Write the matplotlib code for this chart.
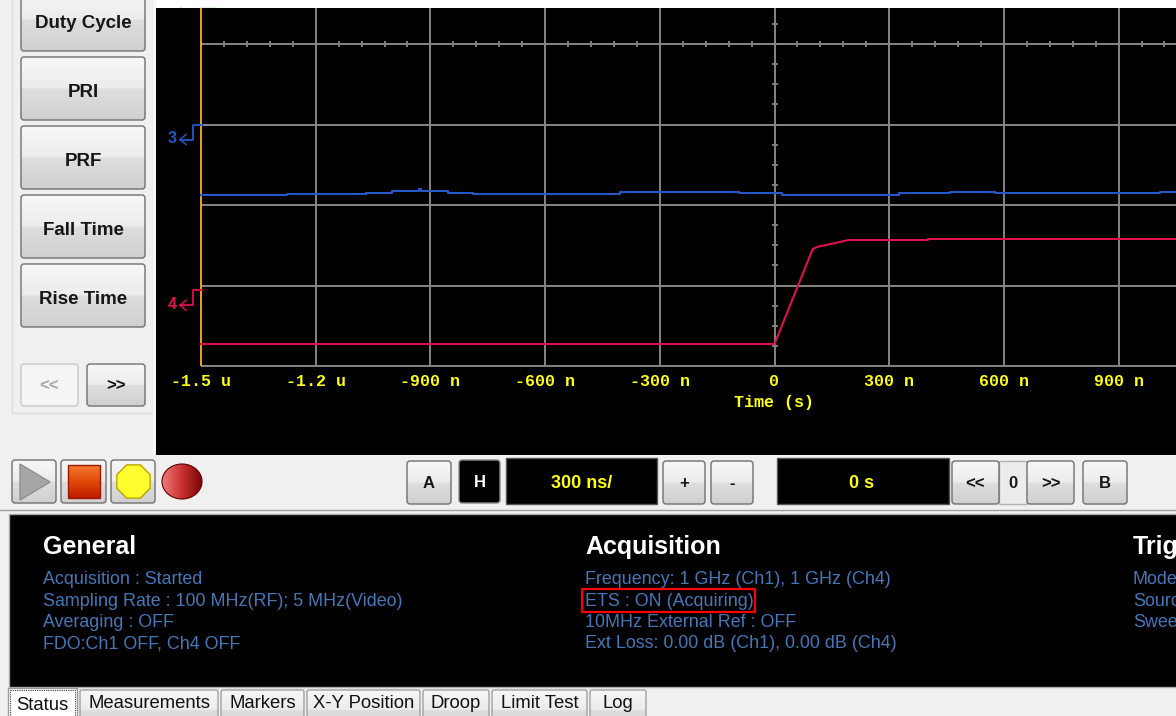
import numpy as np
import matplotlib
matplotlib.use('Agg')
import matplotlib.pyplot as plt
from matplotlib.patches import Rectangle, FancyBboxPatch, Polygon, Ellipse, RegularPolygon
from matplotlib.colors import LinearSegmentedColormap

# ---- data ----
time_ticks_ns = [-1500, -1200, -900, -600, -300, 0, 300, 600, 900]
time_tick_labels = ['-1.5 u', '-1.2 u', '-900 n', '-600 n', '-300 n', '0', '300 n', '600 n', '900 n']

# channel 3 (blue), step levels in screen divisions
ch3_t_ns = [-1500, -1275, -1069, -1000, -930, -924, -854, -789, -404, -93, 20, 326, 459, 577, 1008]
ch3_div = [2.124, 2.137, 2.155, 2.180, 2.199, 2.180, 2.155, 2.141, 2.161, 2.145, 2.124, 2.145, 2.161, 2.145, 2.161]

# channel 4 (red), pulse rising edge
ch4_t_ns = [-1500, 0, 100, 112, 194, 401, 401, 1050]
ch4_div = [0.273, 0.273, 1.453, 1.480, 1.565, 1.565, 1.578, 1.578]

ch3_ref_div = 3.0
ch4_ref_div = 0.94

side_buttons = ['Duty Cycle', 'PRI', 'PRF', 'Fall Time', 'Rise Time']
timebase_label = '300 ns/'
delay_label = '0 s'

general_title = 'General'
general_lines = ['Acquisition : Started',
                 'Sampling Rate : 100 MHz(RF); 5 MHz(Video)',
                 'Averaging : OFF',
                 'FDO:Ch1 OFF, Ch4 OFF']
acq_title = 'Acquisition'
acq_lines = ['Frequency: 1 GHz (Ch1), 1 GHz (Ch4)',
             'ETS : ON (Acquiring)',
             '10MHz External Ref : OFF',
             'Ext Loss: 0.00 dB (Ch1), 0.00 dB (Ch4)']
trig_title = 'Trigger'
trig_lines = ['Mode', 'Source', 'Sweep']

tabs = ['Status', 'Measurements', 'Markers', 'X-Y Position', 'Droop', 'Limit Test', 'Log']

# ---- layout ----
W, H = 1176, 716
NS_PER_PX = 300 / 114.7
DIV_PER_PX = 1 / 80.5
GRID = '#858585'
BLUE = '#2458c8'
RED = '#e0104c'
YEL = '#ffff10'
TXT_BLUE = '#4577b8'

fig = plt.figure(figsize=(W / 100, H / 100), dpi=100)
fig.patch.set_facecolor('#f0f0f0')
ui = fig.add_axes([0, 0, 1, 1])
ui.axis('off')

btn_cmap = LinearSegmentedColormap.from_list(
    'btn', [(0, '#f7f7f7'), (0.49, '#ececec'), (0.51, '#dedede'), (1, '#d0d0d0')])


def button(x0, y0, x1, y1, label='', size=12, tc='#161616', ec='#707070',
           cmap=btn_cmap, fc=None, r=3, family='Liberation Sans', dy=1):
    box = FancyBboxPatch((x0, y0), x1 - x0, y1 - y0,
                         boxstyle='round,pad=0,rounding_size=%g' % r,
                         fc=fc if fc else 'none', ec=ec, lw=1.0, zorder=4)
    ui.add_patch(box)
    if fc is None:
        im = ui.imshow(np.linspace(0, 1, 64).reshape(-1, 1), cmap=cmap,
                       extent=(x0, x1, y1, y0), aspect='auto', zorder=3,
                       interpolation='bilinear')
        im.set_clip_path(box)
    if label:
        ui.text((x0 + x1) / 2, (y0 + y1) / 2 + dy, label, ha='center', va='center',
                fontsize=size, fontweight='bold', color=tc, family=family, zorder=5)


# top white strip and black scope area
ui.add_patch(Rectangle((156, 0), W - 156, 8, fc='white', ec='none', zorder=1))
ui.add_patch(Rectangle((156, 8), W - 156, 447, fc='black', ec='none', zorder=1))
ui.plot([154, 154], [0, 455], color='#fbfbfb', lw=1.2, zorder=2)

# left measurement panel
ui.add_patch(Rectangle((12, -5), 141, 418, fc='#f0f0f0', ec='#d6dde3', lw=1.0, zorder=1))
for i, name in enumerate(side_buttons):
    y0 = -12 + i * 69
    button(21, y0, 145, y0 + 63, name, size=13.5, dy=4)
button(21, 364, 78, 406, '<<', size=12, tc='#a8a8a8', ec='#c4c8cc', fc='#f5f5f5')
button(87, 364, 145, 406, '>>', size=12)

# green channel-1 marker peeking in at the top
ui.plot([165, 180], [8.5, 8.5], color='#1b7a1b', lw=1.2, zorder=6)
ui.plot([181, 184], [8.5, 11], color='#1bb01b', lw=1.2, zorder=6)
ui.plot([201, 215], [9, 9], color='#20e020', lw=2.4, zorder=6)
ui.plot([215, 236], [8.5, 8.5], color='#1b7a1b', lw=1.2, zorder=6)

# ---- scope graticule ----
ax = fig.add_axes([156 / W, (H - 368) / H, 1020 / W, 360 / H])
ax.set_facecolor('black')
xmin = -1500 - 45 * NS_PER_PX
xmax = -1500 + 975 * NS_PER_PX
ytop = (366 - 8) * DIV_PER_PX
ax.set_xlim(xmin, xmax)
ax.set_ylim(-2 * DIV_PER_PX, ytop)
for s in ax.spines.values():
    s.set_visible(False)
ax.set_yticks([])

ax.hlines([0, 1, 2, 3, 4], -1500, xmax, color=GRID, lw=1.4, zorder=1)
ax.vlines(time_ticks_ns[1:], 0, ytop, color=GRID, lw=1.4, zorder=1)
minor_t = np.arange(-1500, xmax, 60)
ax.plot(minor_t, np.full(minor_t.size, 4.0), ls='none', marker='|', ms=5,
        mew=1.3, color=GRID, zorder=1)
minor_d = np.arange(0, ytop, 0.25)
ax.plot(np.zeros(minor_d.size), minor_d, ls='none', marker='_', ms=5,
        mew=1.3, color=GRID, zorder=1)
ax.vlines([-1500], 0, ytop, color='#f0a028', lw=1.4, zorder=3)

ax.step(ch3_t_ns + [xmax], ch3_div + [ch3_div[-1]], where='post', color=BLUE, lw=1.5, zorder=4)
ax.plot(ch4_t_ns, ch4_div, color=RED, lw=1.5, zorder=4)


def chan_marker(ref, label, color):
    dx = np.array([1, -8, -8, -21]) * NS_PER_PX - 1500
    dy = ref + np.array([0, 0, -15, -15]) * DIV_PER_PX
    ax.plot(dx, dy, color=color, lw=1.3, clip_on=False, zorder=5)
    hx = np.array([-15, -21, -15]) * NS_PER_PX - 1500
    hy = ref + np.array([-10, -15, -20]) * DIV_PER_PX
    ax.plot(hx, hy, color=color, lw=1.1, clip_on=False, zorder=5)
    ax.text(-1500 - 29 * NS_PER_PX, ref - 14 * DIV_PER_PX, label, color=color,
            fontsize=11.5, fontweight='bold', ha='center', va='center',
            family='Liberation Sans')


chan_marker(ch3_ref_div, '3', BLUE)
chan_marker(ch4_ref_div, '4', RED)

ax.set_xticks(time_ticks_ns, time_tick_labels)
ax.tick_params(axis='x', length=0, pad=4.5, labelcolor=YEL, labelsize=12)
for lab in ax.get_xticklabels():
    lab.set_fontfamily('Liberation Mono')
    lab.set_fontweight('bold')
ax.annotate('Time (s)', xy=(0, 0), xycoords='data', xytext=(0, -26.5),
            textcoords='offset points', ha='center', va='center', color=YEL,
            fontsize=12, fontweight='bold', family='Liberation Mono',
            annotation_clip=False)

# ---- transport / timebase toolbar ----
button(12, 460, 56, 503)
ui.add_patch(Polygon([[20, 464], [20, 500], [50, 482]], closed=True,
                     fc='#a6a6a6', ec='#8f8f8f', lw=1, zorder=6))
button(61, 460, 106, 503)
stop = Rectangle((68, 465), 32, 33, fc='none', ec='#9a1800', lw=1, zorder=7)
ui.add_patch(stop)
im = ui.imshow(np.linspace(0, 1, 32).reshape(-1, 1),
               cmap=LinearSegmentedColormap.from_list('st', ['#f47a30', '#e04a08', '#c01a00']),
               extent=(68, 100, 498, 465), aspect='auto', zorder=6)
im.set_clip_path(stop)
button(111, 460, 155, 503)
ui.add_patch(RegularPolygon((133.5, 481.5), 8, radius=18, orientation=np.pi / 8,
                            fc='#ffff30', ec='#c0a000', lw=1, zorder=6))
ball = Ellipse((182, 481.5), 40, 35, fc='none', ec='#600000', lw=0.8, zorder=7)
ui.add_patch(ball)
im = ui.imshow(np.linspace(0, 1, 40).reshape(1, -1),
               cmap=LinearSegmentedColormap.from_list('ball', ['#f07a7a', '#c83030', '#7a0606']),
               extent=(162, 202, 499, 464), aspect='auto', zorder=6)
im.set_clip_path(ball)

button(407, 461, 451, 504, 'A', size=12)
button(459, 460, 500, 503, 'H', size=12, tc='white', fc='black', ec='#8a8a8a')
ui.add_patch(Rectangle((506, 458), 151, 46, fc='black', ec='#555555', lw=1, zorder=3))
ui.text(582, 483, timebase_label, ha='center', va='center', color=YEL, fontsize=13,
        fontweight='bold', family='Liberation Sans', zorder=5)
button(663, 461, 705, 504, '+', size=12)
button(711, 461, 753, 504, '-', size=12)
ui.add_patch(Rectangle((777, 458), 172, 46, fc='black', ec='#555555', lw=1, zorder=3))
ui.text(862, 483, delay_label, ha='center', va='center', color=YEL, fontsize=13,
        fontweight='bold', family='Liberation Sans', zorder=5)
button(952, 461, 999, 504, '<<', size=12)
ui.add_patch(Rectangle((999, 461), 28, 43, fc='#ececec', ec='#b0b0b0', lw=1, zorder=3))
ui.text(1013, 483, '0', ha='center', va='center', color='#161616', fontsize=12,
        fontweight='bold', family='Liberation Sans', zorder=5)
button(1027, 461, 1074, 504, '>>', size=12)
button(1083, 461, 1127, 504, 'B', size=12)

# ---- status panel ----
ui.plot([0, W], [510, 510], color='#a0a0a0', lw=1, zorder=2)
ui.add_patch(Rectangle((9, 514), W, 173, fc='black', ec='#a8a8a8', lw=1, zorder=2))

cols = [(43, general_title, general_lines), (585, acq_title, acq_lines),
        (1133, trig_title, trig_lines)]
for x, title, lines in cols:
    ui.text(x, 547, title, ha='left', va='center', color='white', fontsize=18,
            fontweight='bold', family='Liberation Sans', zorder=5)
    for k, s in enumerate(lines):
        ui.text(x, 580 + k * 21.3, s, ha='left', va='center', color=TXT_BLUE,
                fontsize=12.9, family='Liberation Sans', zorder=5)
ui.add_patch(Rectangle((582, 589), 173, 23, fill=False, ec='#ff0000', lw=1.6, zorder=6))

# ---- tabs ----
tab_edges = [(8, 77), (80, 218), (221, 304), (307, 420), (423, 489), (492, 587), (590, 646)]
for i, (name, (x0, x1)) in enumerate(zip(tabs, tab_edges)):
    if i == 0:
        ui.add_patch(Rectangle((x0, 688), x1 - x0, 40, fc='white', ec='#9a9a9a', lw=1, zorder=3))
        ui.add_patch(Rectangle((x0 + 2, 690), x1 - x0 - 4, 40, fill=False, ec='#404040',
                               lw=0.8, ls=(0, (1, 1)), zorder=4))
        ty = 706
    else:
        button(x0, 690, x1, 730, r=2, ec='#a0a0a0')
        ty = 704
    ui.text((x0 + x1) / 2, ty, name, ha='center', va='center', color='#111111',
            fontsize=13.3, family='Liberation Sans', zorder=5)

ui.set_xlim(0, W)
ui.set_ylim(H, 0)
fig.savefig('out.png', dpi=100, facecolor=fig.get_facecolor())
